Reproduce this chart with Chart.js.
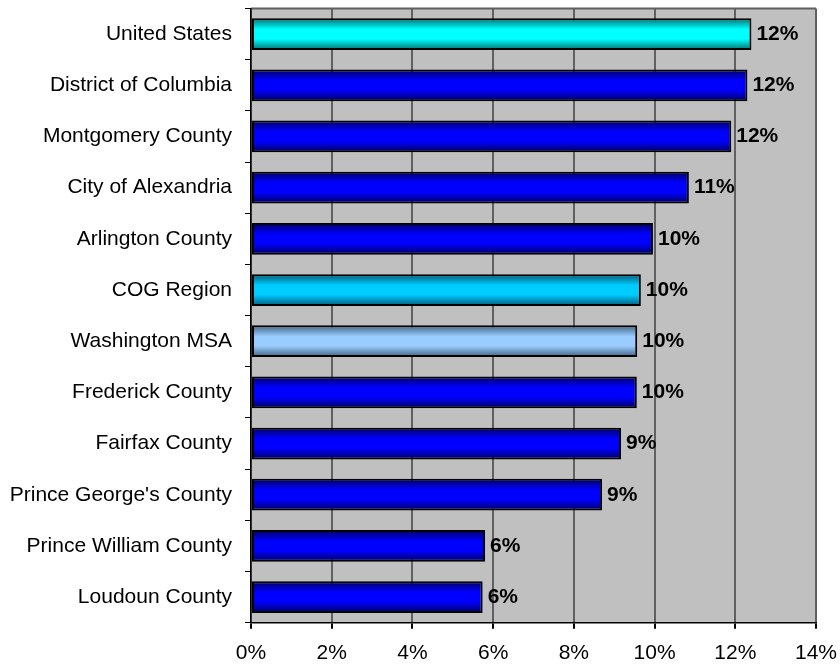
<!DOCTYPE html>
<html>
<head>
<meta charset="utf-8">
<script src="https://cdn.jsdelivr.net/npm/chart.js@4/dist/chart.umd.min.js"></script>
<style>
  html, body { margin: 0; padding: 0; background: #fff; }
  #wrap { width: 840px; height: 665px; }
</style>
</head>
<body>
<div id="wrap"><canvas id="chart" width="840" height="665"></canvas></div>
<script>
// Chart data
const areas = [
    'United States', 'District of Columbia', 'Montgomery County', 'City of Alexandria',
    'Arlington County', 'COG Region', 'Washington MSA', 'Frederick County',
    'Fairfax County', "Prince George's County", 'Prince William County', 'Loudoun County'
];
const shares = [12.4, 12.3, 11.9, 10.85, 9.96, 9.66, 9.57, 9.56, 9.17, 8.7, 5.8, 5.74];
const xTicks = [0, 2, 4, 6, 8, 10, 12, 14];

// bar colour per row: [edge, middle]
const barTones = areas.map(function(name) {
    if (name === 'United States') return ['#007070', '#00ffff'];
    if (name === 'COG Region') return ['#005a78', '#00ccff'];
    if (name === 'Washington MSA') return ['#40607e', '#99ccff'];
    return ['#000060', '#0000ff'];
});

const fontFamily = "Arial, 'Liberation Sans', sans-serif";

// gray plot area with a thin top edge
const plotBackground = {
    id: 'plotBackground',
    beforeDraw(chart) {
        const { ctx, chartArea } = chart;
        ctx.save();
        ctx.fillStyle = '#c0c0c0';
        ctx.fillRect(chartArea.left, chartArea.top, chartArea.right - chartArea.left, chartArea.bottom - chartArea.top);
        ctx.strokeStyle = '#606060';
        ctx.lineWidth = 2;
        ctx.beginPath();
        ctx.moveTo(chartArea.left, chartArea.top);
        ctx.lineTo(chartArea.right, chartArea.top);
        ctx.stroke();
        ctx.restore();
    }
};

// bold value labels at the end of each bar
const valueLabels = {
    id: 'valueLabels',
    afterDatasetsDraw(chart) {
        const { ctx } = chart;
        const meta = chart.getDatasetMeta(0);
        ctx.save();
        ctx.font = 'bold 21px ' + fontFamily;
        ctx.fillStyle = '#000';
        ctx.textBaseline = 'middle';
        ctx.textAlign = 'left';
        meta.data.forEach(function(bar, i) {
            ctx.fillText(Math.round(shares[i]) + '%', bar.x + 5, bar.y);
        });
        ctx.restore();
    }
};

function barGradient(context) {
    const chart = context.chart;
    const yScale = chart.scales.y;
    if (!yScale || !chart.chartArea) return barTones[context.dataIndex][1];
    const center = yScale.getPixelForValue(context.dataIndex);
    const half = (chart.chartArea.bottom - chart.chartArea.top) / areas.length * 0.62 / 2;
    const tones = barTones[context.dataIndex];
    const g = chart.ctx.createLinearGradient(0, center - half, 0, center + half);
    g.addColorStop(0, tones[0]);
    g.addColorStop(0.35, tones[1]);
    g.addColorStop(0.65, tones[1]);
    g.addColorStop(1, tones[0]);
    return g;
}

const ctx = document.getElementById('chart').getContext('2d');
new Chart(ctx, {
    type: 'bar',
    data: {
        labels: areas,
        datasets: [{
            data: shares,
            backgroundColor: barGradient,
            borderColor: '#000',
            borderWidth: 2,
            borderSkipped: false,
            categoryPercentage: 1,
            barPercentage: 0.62
        }]
    },
    options: {
        indexAxis: 'y',
        responsive: false,
        animation: false,
        layout: { padding: { top: 8.5, right: 24, bottom: 0, left: 0 } },
        scales: {
            x: {
                min: 0,
                max: 14,
                afterBuildTicks: function(scale) {
                    scale.ticks = xTicks.map(v => ({ value: v }));
                },
                afterFit: function(scale) {
                    scale.height = 42.3;
                    scale.paddingLeft = 0;
                    scale.paddingRight = 0;
                },
                ticks: {
                    color: '#000',
                    font: { family: fontFamily, size: 21 },
                    padding: 12,
                    maxRotation: 0,
                    callback: v => v + '%'
                },
                grid: {
                    color: '#606060',
                    lineWidth: 2,
                    tickLength: 6,
                    tickColor: '#000'
                },
                border: { color: '#000', width: 1.5 }
            },
            y: {
                afterFit: function(scale) {
                    scale.width = 251;
                    scale.paddingTop = 0;
                    scale.paddingBottom = 0;
                },
                ticks: {
                    color: '#000',
                    font: { family: fontFamily, size: 21 },
                    padding: 13
                },
                grid: {
                    drawOnChartArea: false,
                    tickLength: 6,
                    color: '#000',
                    offset: true
                },
                border: { color: '#000', width: 1.5 }
            }
        },
        plugins: {
            legend: { display: false },
            tooltip: { enabled: false }
        }
    },
    plugins: [plotBackground, valueLabels]
});
</script>
</body>
</html>
